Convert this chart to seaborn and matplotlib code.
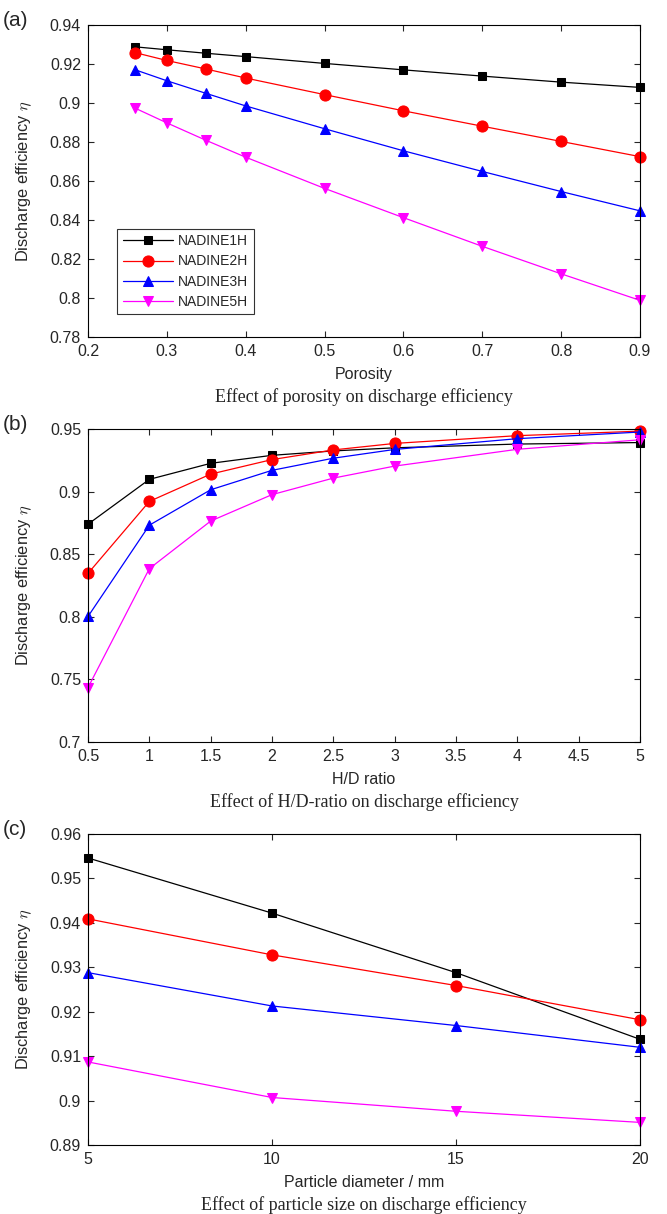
import numpy as np
import pandas as pd
import matplotlib
matplotlib.use("Agg")
import matplotlib.pyplot as plt
import seaborn as sns

# data
series = ["NADINE1H", "NADINE2H", "NADINE3H", "NADINE5H"]
colors = ["black", "red", "blue", "magenta"]
markers = ["s", "o", "^", "v"]

porosity = [0.26, 0.3, 0.35, 0.4, 0.5, 0.6, 0.7, 0.8, 0.9]
eta_por_1h = [0.9288, 0.9273, 0.9255, 0.9238, 0.9203, 0.9170, 0.9138, 0.9107, 0.9080]
eta_por_2h = [0.9258, 0.9218, 0.9174, 0.9128, 0.9043, 0.8960, 0.8881, 0.8803, 0.8725]
eta_por_3h = [0.9170, 0.9114, 0.9049, 0.8985, 0.8868, 0.8755, 0.8649, 0.8546, 0.8447]
eta_por_5h = [0.8973, 0.8898, 0.8808, 0.8722, 0.8562, 0.8412, 0.8265, 0.8124, 0.7988]

hd_ratio = [0.5, 1, 1.5, 2, 2.5, 3, 4, 5]
eta_hd_1h = [0.8740, 0.9098, 0.9226, 0.9290, 0.9325, 0.9350, 0.9380, 0.9392]
eta_hd_2h = [0.8347, 0.8922, 0.9140, 0.9256, 0.9333, 0.9385, 0.9447, 0.9483]
eta_hd_3h = [0.8003, 0.8732, 0.9015, 0.9170, 0.9267, 0.9337, 0.9423, 0.9476]
eta_hd_5h = [0.7435, 0.8385, 0.8765, 0.8976, 0.9108, 0.9204, 0.9338, 0.9414]

diameter = [5, 10, 15, 20]
eta_d_1h = [0.9546, 0.9422, 0.9288, 0.9138]
eta_d_2h = [0.9409, 0.9328, 0.9259, 0.9182]
eta_d_3h = [0.9288, 0.9213, 0.9169, 0.9120]
eta_d_5h = [0.9087, 0.9007, 0.8976, 0.8951]

sns.set_style("ticks")
plt.rcParams["font.family"] = ["Liberation Sans", "DejaVu Sans"]
plt.rcParams["mathtext.fontset"] = "cm"
plt.rcParams["xtick.direction"] = "in"
plt.rcParams["ytick.direction"] = "in"
plt.rcParams["xtick.top"] = True
plt.rcParams["ytick.right"] = True

fig = plt.figure(figsize=(6.67, 12.14), dpi=100)

panels = [
    dict(rect=[0.132, 0.7224, 0.8275, 0.257], tag="(a)", x=porosity,
         ys=[eta_por_1h, eta_por_2h, eta_por_3h, eta_por_5h],
         xlim=(0.2, 0.9), xticks=np.arange(0.2, 0.91, 0.1),
         ylim=(0.78, 0.94), yticks=np.arange(0.78, 0.941, 0.02),
         xlabel="Porosity", caption="Effect of porosity on discharge efficiency"),
    dict(rect=[0.132, 0.3888, 0.8275, 0.2578], tag="(b)", x=hd_ratio,
         ys=[eta_hd_1h, eta_hd_2h, eta_hd_3h, eta_hd_5h],
         xlim=(0.5, 5), xticks=np.arange(0.5, 5.01, 0.5),
         ylim=(0.7, 0.95), yticks=np.arange(0.7, 0.951, 0.05),
         xlabel="H/D ratio", caption="Effect of H/D-ratio on discharge efficiency"),
    dict(rect=[0.132, 0.0568, 0.8275, 0.2562], tag="(c)", x=diameter,
         ys=[eta_d_1h, eta_d_2h, eta_d_3h, eta_d_5h],
         xlim=(5, 20), xticks=[5, 10, 15, 20],
         ylim=(0.89, 0.96), yticks=np.arange(0.89, 0.961, 0.01),
         xlabel="Particle diameter / mm",
         caption="Effect of particle size on discharge efficiency"),
]

for i, p in enumerate(panels):
    ax = fig.add_axes(p["rect"])
    for name, y, c, m in zip(series, p["ys"], colors, markers):
        ms = 8 if m in ("o",) else 7.5
        if m == "s":
            ms = 6
        sns.lineplot(x=p["x"], y=y, ax=ax, color=c, marker=m, markersize=ms,
                     markeredgecolor=c, linewidth=0.9, label=name, clip_on=False)
    ax.set_xlim(*p["xlim"])
    ax.set_ylim(*p["ylim"])
    ax.set_xticks(p["xticks"])
    ax.set_yticks(p["yticks"])
    ax.set_xticklabels([f"{v:g}" for v in p["xticks"]])
    ax.set_yticklabels([f"{v:.2f}".rstrip("0").rstrip(".") for v in p["yticks"]])
    ax.tick_params(labelsize=11.5, length=4, width=0.8, pad=5)
    for s in ax.spines.values():
        s.set_linewidth(0.8)
        s.set_color("black")
    ax.set_xlabel(p["xlabel"], fontsize=11.5, labelpad=6)
    ax.set_ylabel(r"Discharge efficiency $\eta$", fontsize=11.8)
    ax.yaxis.set_label_coords(-0.098, 0.5)
    top = p["rect"][1] + p["rect"][3]
    fig.text(0.004, top + 0.004, p["tag"], fontsize=15, ha="left", va="center")
    ax.text(0.5, -0.192, p["caption"], transform=ax.transAxes, fontsize=13,
            ha="center", va="center", family=["Liberation Serif", "DejaVu Serif"])
    if i == 0:
        leg = ax.legend(loc="lower left", bbox_to_anchor=(0.04, 0.05),
                        fontsize=10, frameon=True, fancybox=False,
                        edgecolor="black", handlelength=3.6, borderpad=0.4,
                        labelspacing=0.45, handletextpad=0.4)
        leg.get_frame().set_linewidth(0.8)
    else:
        ax.get_legend().remove()

fig.savefig("out.png", dpi=100)
